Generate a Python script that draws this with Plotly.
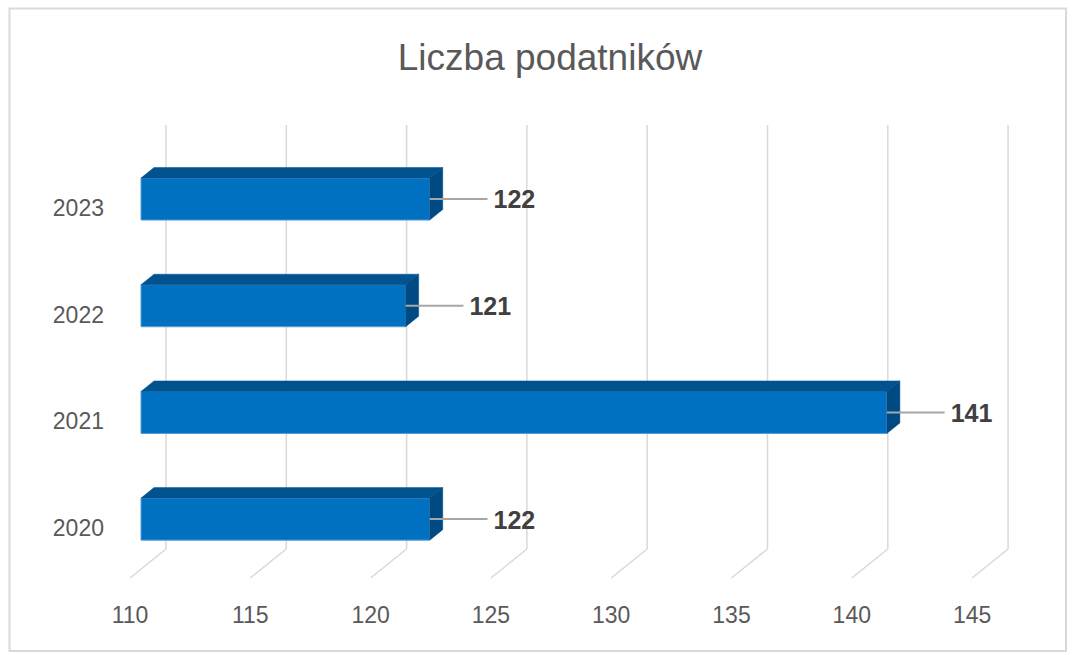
import plotly.graph_objects as go

# ---- data ----
years = ["2020", "2021", "2022", "2023"]
values = [122, 141, 121, 122]
x_ticks = [110, 115, 120, 125, 130, 135, 140, 145]
title_text = "Liczba podatników"

# ---- layout / projection constants ----
W, H = 1075, 655
PL, PR, PT, PB = 112, 1050, 90, 592          # plot area in px
X0_PX, X_SCALE = 130, 24.06                 # value 110 -> px 130, px per unit
Y0_PX, Y_SCALE = 528, 106.7                 # category 0 -> px 528, px per category
DX, DY = 1.496, 0.272                       # oblique shift (data units) per full depth
D0, D1 = 0.306, 0.667                       # bar front/back depth
HALF = 0.197                                # half bar thickness (category units)
BASE = 110

x_range = [BASE + (PL - X0_PX) / X_SCALE, BASE + (PR - X0_PX) / X_SCALE]
y_range = [(Y0_PX - PB) / Y_SCALE, (Y0_PX - PT) / Y_SCALE]
floor_front = (Y0_PX - 578) / Y_SCALE
wall_top = (Y0_PX - 125) / Y_SCALE

FRONT = "#0070C0"
TOP = "#00538F"
SIDE = "#004A84"
GRID = "#D9D9D9"
TXT = "#595959"
FONT = "Liberation Sans, Arial, sans-serif"

fig = go.Figure()

# gridlines (back wall + floor) as shapes under everything
shapes = []
for v in x_ticks:
    shapes.append(dict(type="line", xref="x", yref="y", layer="below",
                       x0=v + DX, x1=v + DX, y0=floor_front + DY, y1=wall_top,
                       line=dict(color=GRID, width=1.5)))
    shapes.append(dict(type="line", xref="x", yref="y", layer="below",
                       x0=v, x1=v + DX, y0=floor_front, y1=floor_front + DY,
                       line=dict(color=GRID, width=1.5)))

# outer chart border in paper coords
def px2paper_x(p):
    return (p - PL) / (PR - PL)

def px2paper_y(p):
    return (PB - p) / (PB - PT)

shapes.append(dict(type="rect", xref="paper", yref="paper", layer="below",
                   x0=px2paper_x(9.5), x1=px2paper_x(1066),
                   y0=px2paper_y(651), y1=px2paper_y(8.5),
                   line=dict(color="#D9D9D9", width=2), fillcolor="rgba(0,0,0,0)"))

ypos = list(range(len(years)))

# front faces
fig.add_trace(go.Bar(
    orientation="h",
    y=[i + DY * D0 for i in ypos],
    x=[v - BASE for v in values],
    base=BASE + DX * D0,
    width=2 * HALF,
    marker=dict(color=FRONT, line=dict(color="#5A9BD5", width=1)),
    hoverinfo="skip", showlegend=False,
))

# top faces
tx, ty = [], []
for i, v in zip(ypos, values):
    yt0 = i + HALF + DY * D0
    yt1 = i + HALF + DY * D1
    tx += [BASE + DX * D0, v + DX * D0, v + DX * D1, BASE + DX * D1, BASE + DX * D0, None]
    ty += [yt0, yt0, yt1, yt1, yt0, None]
fig.add_trace(go.Scatter(x=tx, y=ty, mode="lines", fill="toself", fillcolor=TOP,
                         line=dict(color=TOP, width=0.5), hoverinfo="skip", showlegend=False))

# side faces
sx, sy = [], []
for i, v in zip(ypos, values):
    sx += [v + DX * D0, v + DX * D0, v + DX * D1, v + DX * D1, v + DX * D0, None]
    sy += [i - HALF + DY * D0, i + HALF + DY * D0, i + HALF + DY * D1, i - HALF + DY * D1,
           i - HALF + DY * D0, None]
fig.add_trace(go.Scatter(x=sx, y=sy, mode="lines", fill="toself", fillcolor=SIDE,
                         line=dict(color=SIDE, width=0.5), hoverinfo="skip", showlegend=False))

# leader lines + labels
LINE_LEN = 2.4
lx, ly = [], []
for i, v in zip(ypos, values):
    yc = i + DY * D0
    lx += [v + DX * D0, v + DX * D0 + LINE_LEN, None]
    ly += [yc, yc, None]
fig.add_trace(go.Scatter(x=lx, y=ly, mode="lines", line=dict(color="#A6A6A6", width=2),
                         hoverinfo="skip", showlegend=False))
fig.add_trace(go.Scatter(
    x=[v + DX * D0 + LINE_LEN + 0.25 for v in values],
    y=[i + DY * D0 - 0.03 for i in ypos],
    mode="text", text=[str(v) for v in values], textposition="middle right",
    textfont=dict(family=FONT, size=25, color="#404040", weight="bold"),
    hoverinfo="skip", showlegend=False,
))

fig.update_layout(
    width=W, height=H,
    margin=dict(l=PL, r=W - PR, t=PT, b=H - PB, pad=0),
    paper_bgcolor="white", plot_bgcolor="white",
    shapes=shapes,
    title=dict(text=title_text, x=550 / W, xanchor="center", y=1 - 57 / H, yanchor="middle",
               font=dict(family=FONT, size=37, color=TXT)),
    xaxis=dict(range=x_range, tickvals=x_ticks, ticktext=[str(t) for t in x_ticks],
               showgrid=False, zeroline=False, showline=False, ticks="",
               ticklabelstandoff=7,
               tickfont=dict(family=FONT, size=23, color=TXT),
               fixedrange=True),
    yaxis=dict(range=y_range, tickvals=ypos, ticktext=years,
               showgrid=False, zeroline=False, showline=False, ticks="",
               ticklabelstandoff=7,
               tickfont=dict(family=FONT, size=23, color=TXT),
               fixedrange=True),
    font=dict(family=FONT),
)

fig.write_html("out.html", config={"displayModeBar": False},
               post_script="document.body.style.margin='0';document.body.style.overflow='hidden';")
